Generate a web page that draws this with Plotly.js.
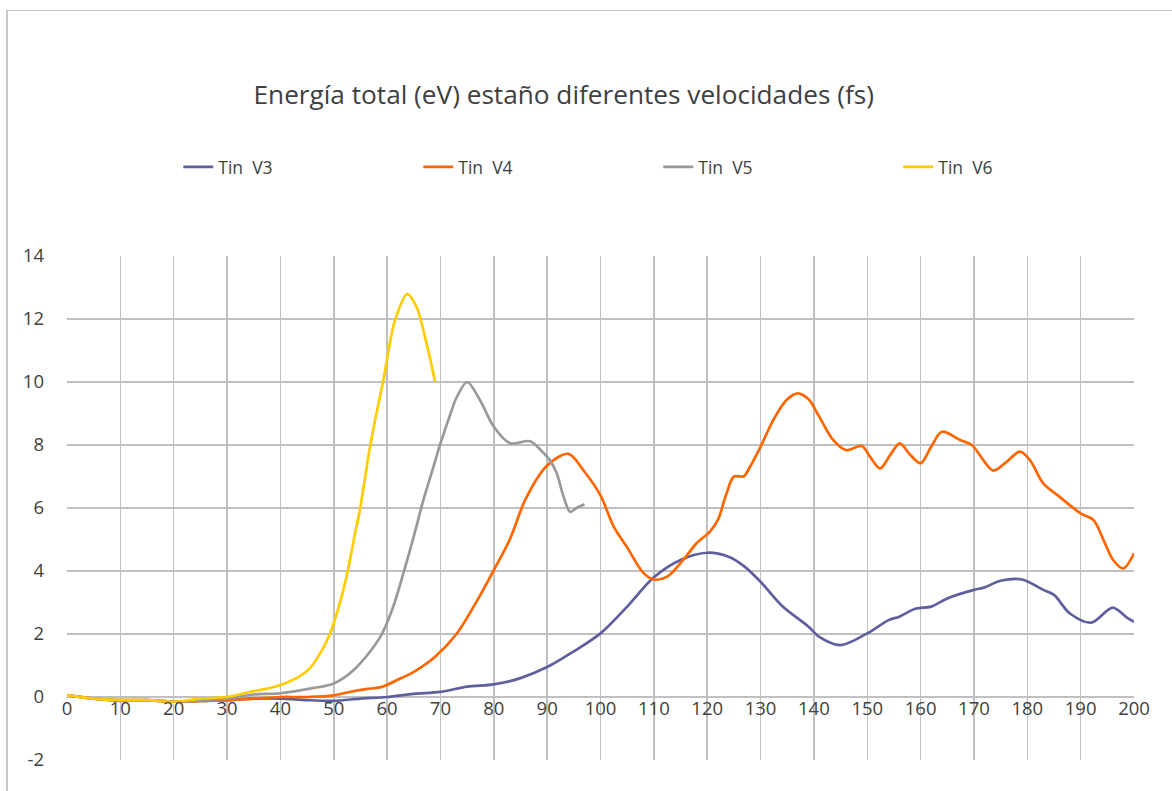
<!DOCTYPE html>
<html>
<head>
<meta charset="utf-8">
<script src="https://cdn.plot.ly/plotly-3.0.1.min.js"></script>
<style>
html,body{margin:0;padding:0;background:#fff;}
#wrap{position:relative;width:1172px;height:791px;overflow:hidden;}
#frame{position:absolute;left:6px;top:10px;width:1200px;height:800px;border-left:2px solid #c8c8c8;border-top:1px solid #c0c0c0;box-sizing:border-box;pointer-events:none;}
#chart{position:absolute;left:0;top:0;width:1172px;height:791px;}
</style>
</head>
<body>
<div id="wrap"><div id="chart"></div><div id="frame"></div></div>
<script>
const seriesNames = ["Tin  V3", "Tin  V4", "Tin  V5", "Tin  V6"];
const seriesColors = ["#5F5F9E", "#FF6600", "#999999", "#FFCC00"];

const v3x = [0,5,10,15,20,25,30,35,40,45,50,55,60,65,70,75,80,85,90,95,100,105,110,115,120,124,127,130,134,139,141,145,150,154,156,159,162,165,170,172,175,179,183,185,188,192,196,198.6,200];
const v3y = [0.05,-0.05,-0.12,-0.1,-0.15,-0.12,-0.1,-0.05,-0.05,-0.1,-0.12,-0.05,0,0.1,0.16,0.33,0.4,0.6,0.95,1.45,2.02,2.87,3.8,4.35,4.58,4.45,4.14,3.66,2.9,2.23,1.91,1.65,2.02,2.44,2.55,2.8,2.87,3.13,3.4,3.48,3.69,3.73,3.4,3.24,2.65,2.36,2.84,2.53,2.39];

const v4x = [0,5,10,15,20,25,30,35,40,45,50,53,56,59,62,65,69,73,77,80,83,86,90,94,97,100,102.5,105,108,110,112.5,115.5,118,120.5,122,123.6,125,126.8,128,130,132.4,135,137,139,141,143.6,146,149,150.5,152.4,154.3,156.1,158,160,162,164,167.4,169.6,173.6,176,178.6,180.5,183,186,190,192.4,194.5,196.1,198,200];
const v4y = [0.05,-0.05,-0.1,-0.1,-0.15,-0.12,-0.1,-0.05,0,0,0.05,0.16,0.25,0.32,0.55,0.8,1.28,2.0,3.1,4.03,5.0,6.3,7.35,7.72,7.15,6.4,5.4,4.75,3.95,3.73,3.82,4.35,4.88,5.25,5.62,6.45,7.0,7.0,7.3,7.94,8.8,9.45,9.64,9.45,8.9,8.16,7.84,7.97,7.63,7.26,7.68,8.05,7.7,7.42,7.95,8.42,8.16,8.0,7.19,7.45,7.79,7.52,6.78,6.36,5.83,5.62,4.9,4.35,4.08,4.56];

const v5x = [0,5,10,15,20,25,30,35,40,46,50,54,58.7,61,63,65,66.8,68.5,70,72,73,75,77.4,80,83,86.8,89,90.5,91.8,93,94.3,95.5,97];
const v5y = [0.05,-0.05,-0.1,-0.1,-0.15,-0.1,-0.05,0.08,0.12,0.28,0.43,0.9,1.9,2.8,3.9,5.1,6.25,7.2,8.05,9.05,9.5,10.0,9.43,8.58,8.06,8.12,7.8,7.52,7.1,6.4,5.88,6.0,6.12];

const v6x = [0,5,10,15,20,25,30,34,37,40,43,45.5,47.5,49.3,51,52.4,54,54.9,56.8,58,59.3,61.5,63.8,65.5,67.4,69];
const v6y = [0.05,-0.05,-0.1,-0.1,-0.15,-0.05,0,0.15,0.25,0.38,0.6,0.91,1.4,2.01,2.9,3.82,5.2,5.94,7.95,9.0,10.06,11.97,12.79,12.39,11.22,10.01];

const xTicks = [0,10,20,30,40,50,60,70,80,90,100,110,120,130,140,150,160,170,180,190,200];
const yTicks = [-2,0,2,4,6,8,10,12,14];

const xs = [v3x, v4x, v5x, v6x];
const ys = [v3y, v4y, v5y, v6y];

const traces = xs.map((x, i) => ({
  x: x, y: ys[i], name: seriesNames[i], type: 'scatter', mode: 'lines',
  line: {color: seriesColors[i], width: 2.7, shape: 'spline', smoothing: 0.9}
}));

const FONT = '"Open Sans", "Noto Sans", sans-serif';
const layout = {
  width: 1172, height: 791,
  margin: {l: 67, r: 38, t: 256, b: 31},
  paper_bgcolor: 'rgba(0,0,0,0)', plot_bgcolor: '#fff',
  font: {family: FONT, color: '#404040'},
  title: {text: 'Energía total (eV) estaño diferentes velocidades (fs)', font: {size: 26.2, color: '#404040', family: FONT},
          x: 0.481, xanchor: 'center', y: 0.88, yanchor: 'middle', xref: 'container', yref: 'container'},
  showlegend: true,
  legend: {orientation: 'h', x: 0.1521, xref: 'container', xanchor: 'left', y: 0.789, yref: 'container', yanchor: 'middle',
           entrywidth: 195, entrywidthmode: 'pixels', font: {size: 17.5, color: '#404040', family: FONT}, bgcolor: 'rgba(0,0,0,0)'},
  xaxis: {range: [0, 200], tickvals: xTicks, ticktext: xTicks.map(String), showgrid: true, gridcolor: '#c0c0c0', gridwidth: 1.5,
          zeroline: false, showline: false, ticks: '', anchor: 'free', position: 0.125, tickfont: {size: 18.5, color: '#404040'}, ticklabelstandoff: -2},
  yaxis: {range: [-2, 14], tickvals: yTicks, ticktext: yTicks.map(String), showgrid: true, gridcolor: '#c0c0c0', gridwidth: 1.5,
          zeroline: false, showline: false, ticks: '', tickfont: {size: 18.5, color: '#404040'}, ticklabelstandoff: 22}
};

Plotly.newPlot('chart', traces, layout, {displayModeBar: false, staticPlot: true});
</script>
</body>
</html>
